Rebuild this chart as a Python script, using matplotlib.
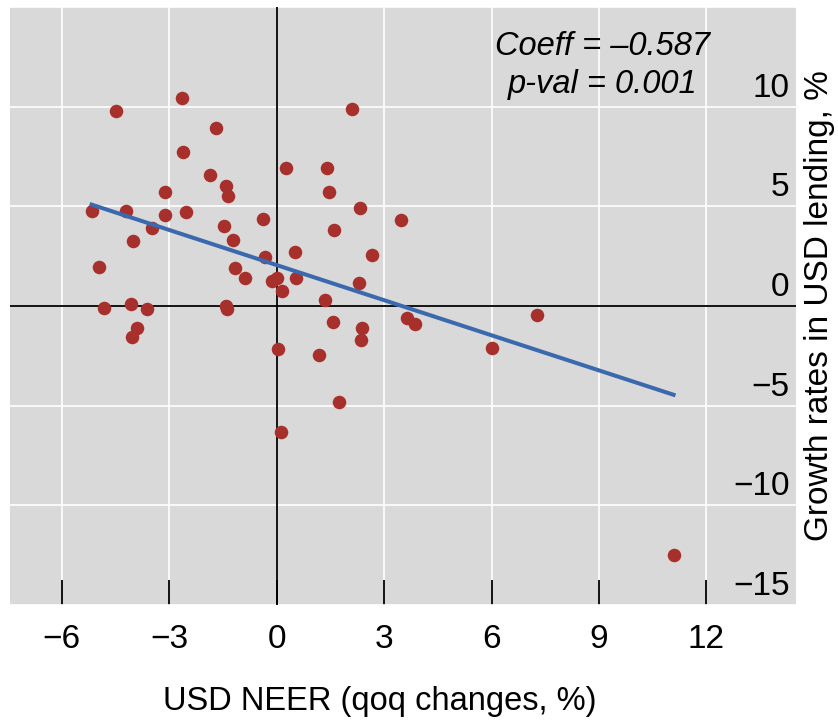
import numpy as np
import matplotlib
matplotlib.use("Agg")
import matplotlib.pyplot as plt

plt.rcParams['font.family'] = ['Liberation Sans', 'DejaVu Sans']

# USD NEER (qoq changes, %) vs growth rates in USD lending, %
neer = [-4.49, -2.65, 2.09, -1.71, -2.63, -1.87, 0.26, 1.41, -1.42, -1.36,
        -3.13, 1.47, 2.32, -5.17, -4.21, -3.11, -2.54, 3.46, -0.38, -3.49,
        -1.46, 1.61, -4.02, -1.22, -4.97, -0.34, 0.50, 2.65, -1.18, -0.90,
        -0.12, 0.00, 0.53, 0.15, 2.29, 1.36, -4.82, -4.07, -3.62, -1.43,
        -1.40, 1.57, 2.39, 2.34, -3.91, -4.04, 3.63, 3.85, 0.03, 1.18,
        1.75, 0.13, 7.28, 6.02, 11.08]
lending = [9.77, 10.43, 9.88, 8.93, 7.72, 6.55, 6.92, 6.92, 6.00, 5.52,
           5.73, 5.70, 4.93, 4.78, 4.78, 4.58, 4.72, 4.33, 4.37, 3.93,
           4.00, 3.82, 3.25, 3.32, 1.98, 2.48, 2.70, 2.58, 1.93, 1.42,
           1.25, 1.38, 1.42, 0.77, 1.15, 0.32, -0.10, 0.12, -0.15, 0.02,
           -0.13, -0.78, -1.13, -1.72, -1.12, -1.55, -0.62, -0.88, -2.15, -2.45,
           -4.82, -6.30, -0.47, -2.10, -12.48]

coeff = -0.587
intercept = 2.05
xticks = [-6, -3, 0, 3, 6, 9, 12]
yticks = [-15, -10, -5, 0, 5, 10]

fig = plt.figure(figsize=(8.38, 7.26), dpi=100)
ax = fig.add_axes([0.0119, 0.1667, 0.938, 0.8237])
ax.set_facecolor('#d9d9d9')
for s in ax.spines.values():
    s.set_visible(False)

ax.set_xlim(-7.45, 14.5)
ax.set_ylim(-15, 15)

ax.set_xticks(xticks)
ax.set_xticklabels([str(t).replace('-', '\u2212') for t in xticks], fontsize=24)
ax.set_yticks([-15, -10, -5, 0, 5, 10, 15])
ax.set_yticklabels([])
ax.tick_params(axis='x', direction='in', length=18, width=1.3, color='black', pad=14)
ax.tick_params(axis='y', length=0)
ax.grid(True, color='white', linewidth=1.2)
ax.set_axisbelow(True)

ax.axhline(0, color='black', linewidth=1.3, zorder=1)
ax.axvline(0, color='black', linewidth=1.3, zorder=1)

# y labels sit inside the plot, just above the gridlines
for t in yticks:
    ax.text(0.992, t + 0.5, str(t).replace('-', '\u2212'), fontsize=24,
            ha='right', va='baseline', transform=ax.get_yaxis_transform())

ax.scatter(neer, lending, s=95, color='#a8302c', zorder=3, linewidths=0)

xs = np.array([min(neer), max(neer)])
ax.plot(xs, intercept + coeff * xs, color='#3a69ad', linewidth=2.9, zorder=4)

ax.text(0.754, 0.96, 'Coeff = \u20130.587\np-val = 0.001', fontsize=23.5,
        style='italic', ha='center', va='top', multialignment='center',
        linespacing=1.3, transform=ax.transAxes)

ax.set_xlabel('USD NEER (qoq changes, %)', fontsize=23.5)
ax.xaxis.set_label_coords(0.471, -0.135)
ax.yaxis.set_label_position('right')
ax.set_ylabel('Growth rates in USD lending, %', fontsize=24, labelpad=6)

fig.savefig('out.png', dpi=100)
